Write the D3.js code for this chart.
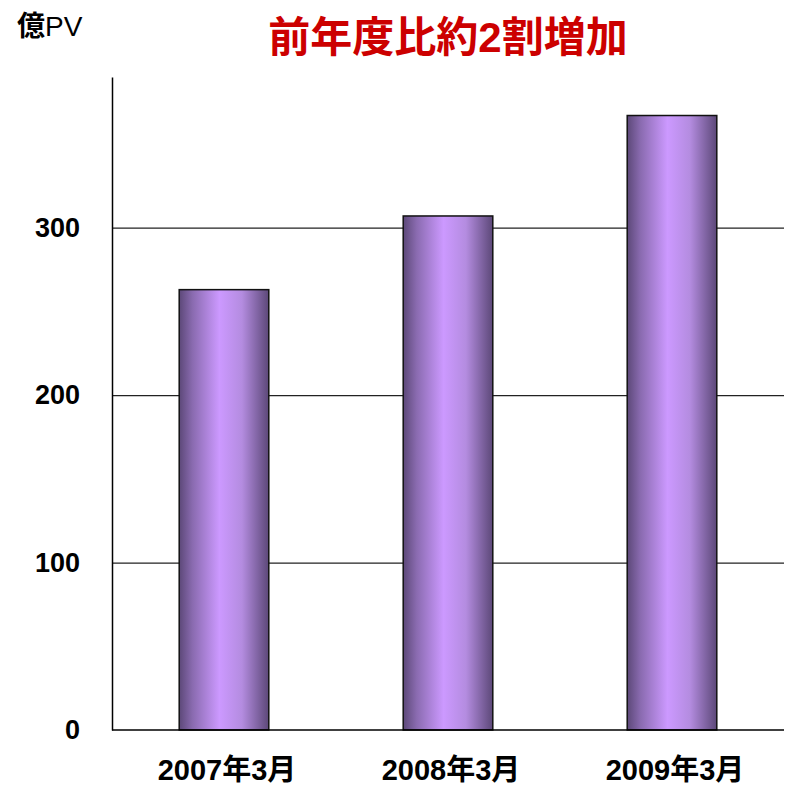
<!DOCTYPE html>
<html>
<head>
<meta charset="utf-8">
<script src="https://cdn.jsdelivr.net/npm/d3@7"></script>
<style>
body { margin: 0; background: #fff; }
text { font-family: "Liberation Sans", Arial, "Noto Sans CJK JP", sans-serif; }
</style>
</head>
<body>
<div class="chart"></div>
<script>
const months = ["2007年3月", "2008年3月", "2009年3月"];
const pageViews = [263, 307, 367];
const yTicks = [0, 100, 200, 300];

const width = 788;
const height = 787;
const margin = {top: 77, right: 4, bottom: 57, left: 112};

const svg = d3.select('.chart')
	.append('svg')
	.attr('width', width)
	.attr('height', height)

const x = d3.scaleBand()
	.domain(months)
	.range([margin.left, width - margin.right])
	.paddingInner(0.6)
	.paddingOuter(0.3)

const y = d3.scaleLinear()
	.domain([0, 390])
	.range([height - margin.bottom, margin.top])

// bar gradient
const grad = svg.append('defs')
	.append('linearGradient')
	.attr('id', 'barGrad')
	.attr('x1', '0%').attr('x2', '100%')
	.attr('y1', '0%').attr('y2', '0%')
const stops = [[0, '#5c4878'], [0.15, '#8a6bb0'], [0.45, '#cc99ff'], [0.7, '#b48ce0'], [1, '#5c4878']]
stops.forEach(function(s) {
	grad.append('stop').attr('offset', s[0]).attr('stop-color', s[1])
})

// gridlines
svg.append('g')
	.attr('transform', 'translate(' + margin.left + ',0)')
	.call(d3.axisLeft(y).tickValues(yTicks.slice(1)).tickSize(-(width - margin.right - margin.left)).tickFormat(''))
	.call(g => g.select('.domain').remove())
	.call(g => g.selectAll('line').attr('stroke', '#222').attr('stroke-width', 1.3))

// bars
svg.selectAll('.bar')
	.data(pageViews)
	.enter()
	.append('rect')
	.attr('class', 'bar')
	.attr('x', function(d, i) { return x(months[i]); })
	.attr('y', function(d) { return y(d); })
	.attr('width', x.bandwidth())
	.attr('height', function(d) { return y(0) - y(d); })
	.attr('fill', 'url(#barGrad)')
	.attr('stroke', '#111')
	.attr('stroke-width', 1.5)

// y axis
const yAxis = svg.append('g')
	.attr('transform', 'translate(' + margin.left + ',0)')
	.call(d3.axisLeft(y).tickValues(yTicks).tickSize(0).tickPadding(32))
yAxis.select('.domain').attr('stroke', '#000').attr('stroke-width', 1.5)
yAxis.selectAll('text')
	.attr('font-size', '27px')
	.attr('font-weight', 'bold')
	.attr('fill', '#000')
	.attr('font-family', '"Liberation Sans", Arial, sans-serif')

// x axis
const xAxis = svg.append('g')
	.attr('transform', 'translate(0,' + y(0) + ')')
	.call(d3.axisBottom(x).tickSize(0).tickPadding(29))
xAxis.select('.domain').attr('stroke', '#000').attr('stroke-width', 1.5)
	.attr('d', 'M' + margin.left + ',0H' + (width - margin.right))
xAxis.selectAll('text')
	.attr('font-size', '29px')
	.attr('font-weight', 'bold')
	.attr('fill', '#000')
	.attr('dx', 3)
	.attr('font-family', '"Liberation Sans", Arial, "Noto Sans CJK JP", sans-serif')

// unit label
svg.append('text')
	.attr('x', 17)
	.attr('y', 36)
	.attr('font-size', '28px')
	.attr('font-family', '"Liberation Sans", Arial, "Noto Sans CJK JP", sans-serif')
	.html('<tspan font-weight="bold">億</tspan>PV')

// title
svg.append('text')
	.attr('x', 448)
	.attr('y', 52)
	.attr('text-anchor', 'middle')
	.attr('font-size', '42px')
	.attr('font-weight', 'bold')
	.attr('fill', '#cc0000')
	.attr('font-family', '"Liberation Sans", Arial, "Noto Sans CJK JP", sans-serif')
	.text('前年度比約2割増加')
</script>
</body>
</html>
